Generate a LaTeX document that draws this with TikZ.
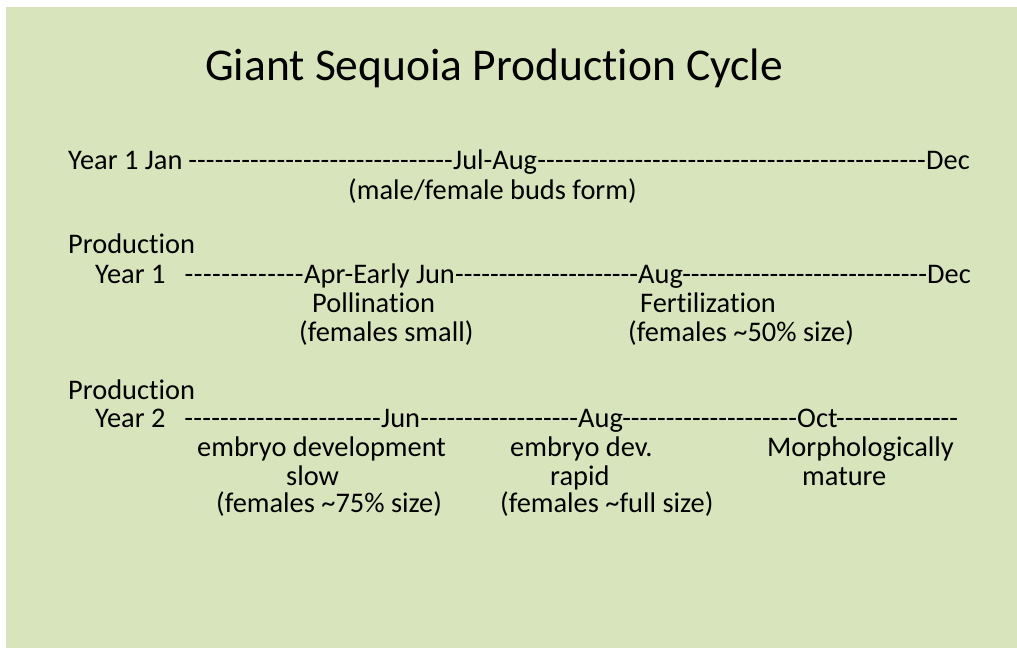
\documentclass[tikz,border=0pt]{standalone}
\usepackage{fontspec}
\setmainfont[Ligatures={NoCommon}]{Carlito}
\definecolor{bggreen}{RGB}{216,228,188}
\newcommand{\dashrun}[1]{\hbox to #1{\xleaders\hbox{-}\hfill}}
\tikzset{
  lbl/.style={anchor=base west, inner sep=0pt, font=\fontsize{28.4}{32}\selectfont, text=black},
  ttl/.style={anchor=base west, inner sep=0pt, font=\fontsize{45.5}{52}\selectfont, text=black},
}
\begin{document}
\begin{tikzpicture}[x=1pt,y=-1pt]
\fill[white] (0,0) rectangle (1017,648);
\useasboundingbox (0,0) rectangle (1017,648);
\fill[bggreen] (6,7) rectangle (1017,648);
% title
\node[ttl] (title) at (205,80) {Giant Sequoia Production Cycle};
% line 1
\node[lbl] (y1jan) at (68,169) {Year 1 Jan};
\node[lbl] (d1a) at (188,169) {\dashrun{265pt}};
\node[lbl] (julaug) at (453,169) {Jul-Aug};
\node[lbl] (d1b) at (537,169) {\dashrun{389pt}};
\node[lbl] (dec1) at (926,169) {Dec};
\node[lbl] (buds) at (348,199) {(male/female buds form)};
% production year 1
\node[lbl] (prod1) at (68,253) {Production};
\node[lbl] (py1) at (95,283) {Year 1};
\node[lbl] (d2a) at (184,283) {\dashrun{120pt}};
\node[lbl] (apr) at (304,283) {Apr-Early Jun};
\node[lbl] (d2b) at (455,283) {\dashrun{183pt}};
\node[lbl] (aug1) at (638,283) {Aug};
\node[lbl] (d2c) at (682,283) {\dashrun{245pt}};
\node[lbl] (dec2) at (927,283) {Dec};
\node[lbl] (poll) at (312,312) {Pollination};
\node[lbl] (fsmall) at (299,341) {(females small)};
\node[lbl] (fert) at (640,312) {Fertilization};
\node[lbl] (f50) at (628,341) {(females {\char"7E}50\% size)};
% production year 2
\node[lbl] (prod2) at (68,399) {Production};
\node[lbl] (py2) at (95,427) {Year 2};
\node[lbl] (d3a) at (184,427) {\dashrun{197pt}};
\node[lbl] (jun) at (381,427) {Jun};
\node[lbl] (d3b) at (420,427) {\dashrun{158pt}};
\node[lbl] (aug2) at (578,427) {Aug};
\node[lbl] (d3c) at (622,427) {\dashrun{175pt}};
\node[lbl] (oct) at (797,427) {Oct};
\node[lbl] (d3d) at (836,427) {\dashrun{122pt}};
\node[lbl] (emb) at (197,456) {embryo development};
\node[lbl] (slow) at (286,485) {slow};
\node[lbl] (f75) at (216,512) {(females {\char"7E}75\% size)};
\node[lbl] (embdev) at (510,456) {embryo dev.};
\node[lbl] (rapid) at (550,485) {rapid};
\node[lbl] (ffull) at (500,512) {(females {\char"7E}full size)};
\node[lbl] (morph) at (767,456) {Morphologically};
\node[lbl] (mature) at (802,485) {mature};
\end{tikzpicture}
\end{document}
